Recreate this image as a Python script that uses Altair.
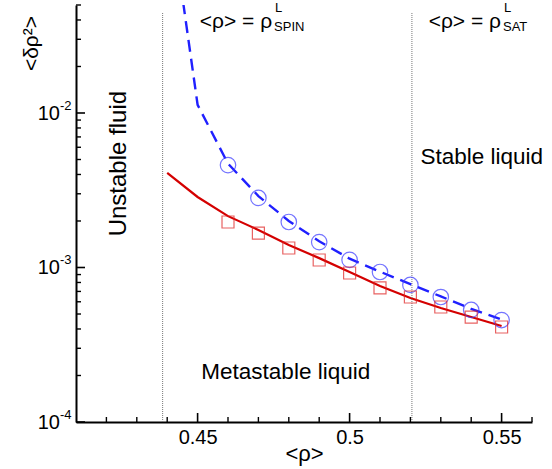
import altair as alt
import pandas as pd

# ---------------- data ----------------
sym_rho = [0.46, 0.47, 0.48, 0.49, 0.50, 0.51, 0.52, 0.53, 0.54, 0.55]
circle_vals = [0.0046, 0.00282, 0.00197, 0.00146, 0.00112, 0.000935, 0.000771, 0.000644, 0.000531, 0.000457]
square_vals = [0.00197, 0.00167, 0.001337, 0.001118, 0.000921, 0.000737, 0.000644, 0.000555, 0.000478, 0.000412]

line_rho = [0.44, 0.45, 0.46, 0.47, 0.48, 0.49, 0.50, 0.51, 0.52, 0.53, 0.54, 0.55]
red_line = [0.00409, 0.00286, 0.00215, 0.00175, 0.0014, 0.00115, 0.000935, 0.000759, 0.000635, 0.000547, 0.000478, 0.000418]
blue_line = [0.28, 0.0113, 0.0047, 0.0029, 0.0020, 0.00148, 0.00114, 0.00094, 0.00078, 0.00065, 0.00054, 0.00046]

spinodal_rho = [0.4385]
saturation_rho = [0.5205]

x_major = [0.45, 0.50, 0.55]
x_minor = [0.42, 0.43, 0.44, 0.46, 0.47, 0.48, 0.49, 0.51, 0.52, 0.53, 0.54, 0.56]
y_major = [1e-4, 1e-3, 1e-2]
y_major_exp = ["-4", "-3", "-2"]
y_minor = [2e-4, 3e-4, 4e-4, 5e-4, 6e-4, 7e-4, 8e-4, 9e-4,
           2e-3, 3e-3, 4e-3, 5e-3, 6e-3, 7e-3, 8e-3, 9e-3,
           2e-2, 3e-2, 4e-2, 5e-2]

FONT = "Liberation Sans"
W, H = 456, 417

xs = alt.Scale(domain=[0.41, 0.56], nice=False, zero=False)
ys = alt.Scale(type="log", domain=[1e-4, 0.05], nice=False)

sym_df = pd.DataFrame({"x": sym_rho, "c": circle_vals, "s": square_vals})
line_df = pd.DataFrame({"x": line_rho, "r": red_line, "b": blue_line})

# red solid line (carries the axes)
red = alt.Chart(line_df).mark_line(color="#d40000", strokeWidth=2.2, clip=True).encode(
    x=alt.X("x:Q", scale=xs,
            axis=alt.Axis(values=x_major, format=".2~f", ticks=False, grid=False,
                          domainColor="black", domainWidth=2,
                          labelFont=FONT, labelFontSize=20, labelColor="black", labelPadding=5,
                          title="<ρ>", titleFont=FONT, titleFontSize=22, titleFontWeight="normal",
                          titleColor="black", titlePadding=-4)),
    y=alt.Y("r:Q", scale=ys,
            axis=alt.Axis(labels=False, ticks=False, grid=False,
                          domainColor="black", domainWidth=2,
                          title="<δρ²>", titleFont=FONT, titleFontSize=21, titleFontWeight="normal",
                          titleColor="black", titleAngle=270, titleX=-45, titleY=38,
                          titleAlign="center", titleBaseline="middle")),
)

blue = alt.Chart(line_df).mark_line(color="#2020ff", strokeWidth=2.4, strokeDash=[12, 7], clip=True).encode(
    x=alt.X("x:Q", scale=xs), y=alt.Y("b:Q", scale=ys))

circles = alt.Chart(sym_df).mark_point(shape="circle", size=240, color="#3a3aff", strokeWidth=1.2,
                                       filled=False).encode(
    x=alt.X("x:Q", scale=xs), y=alt.Y("c:Q", scale=ys))

squares = alt.Chart(sym_df).mark_point(shape="square", size=144, color="#e02020", strokeWidth=1.2,
                                       filled=False).encode(
    x=alt.X("x:Q", scale=xs), y=alt.Y("s:Q", scale=ys))

vlines = alt.Chart(pd.DataFrame({"x": spinodal_rho + saturation_rho})).mark_rule(
    color="#777777", strokeWidth=1, strokeDash=[1, 1]).encode(
    x=alt.X("x:Q", scale=xs), y=alt.value(8), y2=alt.value(H))

# ticks pointing inward
xt_major = alt.Chart(pd.DataFrame({"x": x_major})).mark_rule(color="black", strokeWidth=1.6).encode(
    x=alt.X("x:Q", scale=xs), y=alt.value(H), y2=alt.value(H - 9))
xt_minor = alt.Chart(pd.DataFrame({"x": x_minor})).mark_rule(color="black", strokeWidth=1.4).encode(
    x=alt.X("x:Q", scale=xs), y=alt.value(H), y2=alt.value(H - 5))
yt_major = alt.Chart(pd.DataFrame({"y": y_major})).mark_rule(color="black", strokeWidth=1.6).encode(
    y=alt.Y("y:Q", scale=ys), x=alt.value(0), x2=alt.value(9))
yt_minor = alt.Chart(pd.DataFrame({"y": y_minor})).mark_rule(color="black", strokeWidth=1.4).encode(
    y=alt.Y("y:Q", scale=ys), x=alt.value(0), x2=alt.value(5))

# y tick labels 10^n
ylab_df = pd.DataFrame({"y": y_major, "base": ["10"] * 3, "e": y_major_exp})
ylab_base = alt.Chart(ylab_df).mark_text(font=FONT, fontSize=20, align="right", baseline="middle",
                                         dy=1, color="black").encode(
    y=alt.Y("y:Q", scale=ys), x=alt.value(-16), text="base:N")
ylab_exp = alt.Chart(ylab_df).mark_text(font=FONT, fontSize=13, align="left", baseline="middle",
                                        dy=-7, color="black").encode(
    y=alt.Y("y:Q", scale=ys), x=alt.value(-16), text="e:N")

# region labels
def label(txt, x, y, angle=0, size=22.5, align="center", baseline="middle", dx=0, dy=0):
    return alt.Chart(pd.DataFrame({"x": [x], "y": [y], "t": [txt]})).mark_text(
        font=FONT, fontSize=size, align=align, baseline=baseline, angle=angle,
        dx=dx, dy=dy, color="black").encode(
        x=alt.X("x:Q", scale=xs), y=alt.Y("y:Q", scale=ys), text="t:N")

meta = label("Metastable liquid", 0.479, 2.1e-4)
stable = label("Stable liquid", 0.5435, 0.0052)
unstable = label("Unstable fluid", 0.4241, 0.0047, angle=270, size=24)

spin_main = label("<ρ> = ρ", 0.4745, 0.0355, size=21, align="right", baseline="alphabetic")
spin_sup = label("L", 0.4745, 0.0355, size=13, align="left", baseline="alphabetic", dx=3, dy=-16)
spin_sub = label("SPIN", 0.4745, 0.0355, size=13, align="left", baseline="alphabetic", dx=2, dy=3)
sat_main = label("<ρ> = ρ", 0.5498, 0.0355, size=21, align="right", baseline="alphabetic")
sat_sup = label("L", 0.5498, 0.0355, size=13, align="left", baseline="alphabetic", dx=3, dy=-16)
sat_sub = label("SAT", 0.5498, 0.0355, size=13, align="left", baseline="alphabetic", dx=2, dy=3)

chart = alt.layer(
    red, vlines, blue, circles, squares,
    xt_major, xt_minor, yt_major, yt_minor,
    ylab_base, ylab_exp,
    meta, stable, unstable,
    spin_main, spin_sup, spin_sub, sat_main, sat_sup, sat_sub,
).properties(
    width=W, height=H,
    autosize=alt.AutoSizeParams(type="none"),
    padding={"left": 76, "top": 5, "right": 20, "bottom": 47},
    background="white",
).configure_view(stroke=None)

chart.save("out.html", embed_options={"renderer": "svg", "actions": False})
